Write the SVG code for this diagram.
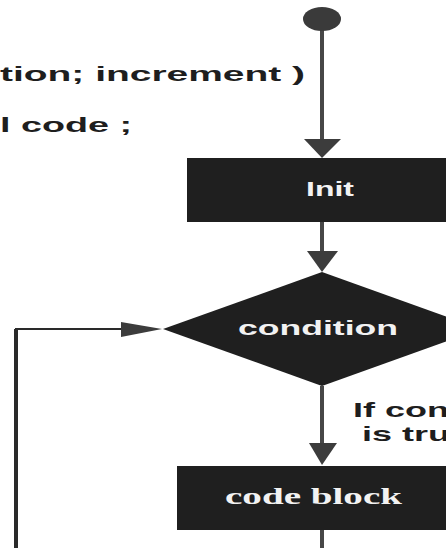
<svg xmlns="http://www.w3.org/2000/svg" width="446" height="548" viewBox="0 0 446 548">
  <style>
    .box { fill: #1f1f1f; }
    .line { stroke: #474747; stroke-width: 4; fill: none; }
    .loop { stroke: #2a2a2a; fill: none; }
    .lbl { font-family: "Liberation Sans", Arial, sans-serif; font-weight: bold; fill: #f2f2f2; }
    .note { font-family: "Liberation Sans", Arial, sans-serif; font-weight: bold; fill: #1e1e1e; }
    .serif { font-family: "Liberation Serif", "Times New Roman", serif; font-weight: bold; fill: #f2f2f2; }
    .head { fill: #3c3c3c; }
  </style>
  <rect width="446" height="548" fill="#ffffff"/>

  <!-- syntax lines -->
  <g id="syntax">
    <text class="note" x="0" y="81" font-size="20.5" textLength="305" lengthAdjust="spacingAndGlyphs">tion; increment )</text>
    <text class="note" x="0" y="132" font-size="20.5" textLength="132" lengthAdjust="spacingAndGlyphs">l code ;</text>
  </g>

  <!-- connectors -->
  <g id="connectors">
    <line class="line" x1="322" y1="28" x2="322" y2="142"/>
    <polygon class="head" points="304,139 341,139 322,158"/>
    <line class="line" x1="322" y1="222" x2="322" y2="254"/>
    <polygon class="head" points="307,251 338,251 322,272"/>
    <line class="line" x1="322" y1="386" x2="322" y2="446"/>
    <polygon class="head" points="309,443 337,443 322,465"/>
    <line class="line" x1="322" y1="530" x2="322" y2="548"/>
    <polyline class="loop" points="16,548 16,329 124,329" stroke-width="2"/>
    <line class="loop" x1="16" y1="329" x2="16" y2="548" stroke-width="4"/>
    <polygon class="head" points="121,322 121,337 162,329"/>
    <text class="note" x="353" y="417" font-size="21" textLength="96" lengthAdjust="spacingAndGlyphs">If con</text>
    <text class="note" x="362" y="441" font-size="21" textLength="88" lengthAdjust="spacingAndGlyphs">is tru</text>
  </g>

  <!-- start point -->
  <g id="start">
    <ellipse cx="322" cy="19" rx="19" ry="12" fill="#3a3a3a"/>
  </g>

  <!-- init box -->
  <g id="init">
    <rect class="box" x="187" y="158" width="280" height="64"/>
    <text class="lbl" x="306" y="196" font-size="19.5" textLength="48" lengthAdjust="spacingAndGlyphs">Init</text>
  </g>

  <!-- condition diamond -->
  <g id="condition">
    <polygon class="box" points="322,272 481,329 322,386 163,329"/>
    <text class="lbl" x="238" y="335" font-size="21" textLength="160" lengthAdjust="spacingAndGlyphs">condition</text>
  </g>

  <!-- code block -->
  <g id="code-block">
    <rect class="box" x="177" y="466" width="290" height="64"/>
    <text class="serif" x="225" y="504" font-size="24" textLength="177" lengthAdjust="spacingAndGlyphs">code block</text>
  </g>
</svg>
